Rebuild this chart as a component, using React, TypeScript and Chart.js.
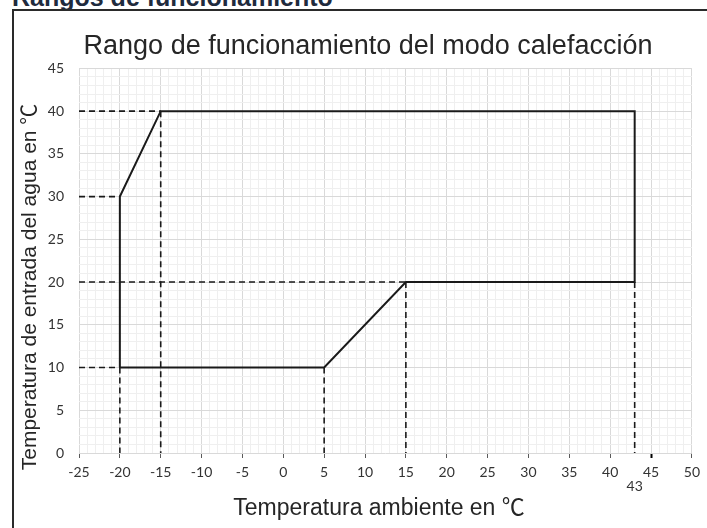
import React, { useEffect, useRef } from "react";
import { Chart, registerables } from "chart.js";

Chart.register(...registerables);

// ---- Data ----
const chartTitle = "Rango de funcionamiento del modo calefacción";
const xAxisTitle = "Temperatura ambiente en ℃";
const yAxisTitle = "Temperatura de entrada del agua en ℃";
const headerText = "Rangos de funcionamiento";

const xMin = -25;
const xMax = 50;
const yMin = 0;
const yMax = 45;
const majorStep = 5;
const extraXTick = 43;

// Operating envelope (polygon)
const boundaryX = [-20, -20, -15, 43, 43, 15, 5, -20];
const boundaryY = [10, 30, 40, 40, 20, 20, 10, 10];

// Horizontal dashed guides: from left axis to envelope
const hGuideY = [40, 30, 20, 10];
const hGuideToX = [-15, -20, 15, -20];

// Vertical dashed guides: from envelope down to x axis
const vGuideX = [-20, -15, 5, 15, 43];
const vGuideFromY = [10, 40, 10, 20, 20];

const FONT = "'Liberation Sans', Arial, 'Noto Sans CJK JP', sans-serif";
const TICK_FONT = "Lato, 'Noto Sans', sans-serif";

export default function App() {
  const ref = useRef<HTMLCanvasElement | null>(null);

  useEffect(() => {
    if (!ref.current) return;
    const black = "#1a1a1a";
    const datasets: any[] = [];

    hGuideY.forEach((y, i) => {
      datasets.push({
        data: [
          { x: xMin, y },
          { x: hGuideToX[i], y },
        ],
        borderColor: black,
        borderWidth: 1.6,
        borderDash: [6, 4],
        showLine: true,
        pointRadius: 0,
        clip: false,
      });
    });
    vGuideX.forEach((x, i) => {
      datasets.push({
        data: [
          { x, y: vGuideFromY[i] },
          { x, y: yMin },
        ],
        borderColor: black,
        borderWidth: 1.6,
        borderDash: [6, 4],
        showLine: true,
        pointRadius: 0,
        clip: false,
      });
    });
    datasets.push({
      data: boundaryX.map((x, i) => ({ x, y: boundaryY[i] })),
      borderColor: black,
      borderWidth: 2,
      showLine: true,
      pointRadius: 0,
      tension: 0,
    });

    const gridColor = (ctx: any) => {
      const v = ctx.tick ? ctx.tick.value : 0;
      return v % majorStep === 0 ? "#d9d9d9" : "#efefef";
    };

    const chart = new Chart(ref.current, {
      type: "scatter",
      data: { datasets },
      options: {
        animation: false,
        responsive: false,
        maintainAspectRatio: false,
        layout: { padding: { left: 14, right: 15, top: 10, bottom: 0 } },
        plugins: {
          legend: { display: false },
          tooltip: { enabled: false },
          title: {
            display: true,
            text: "    " + chartTitle,
            color: "#262626",
            font: { family: FONT, size: 27, weight: "normal", lineHeight: 1.2 },
            padding: { top: 20, bottom: 6 },
          },
        },
        scales: {
          x: {
            type: "linear",
            min: xMin,
            max: xMax,
            afterFit: (s: any) => {
              s.height = 75;
            },
            border: { display: false },
            grid: {
              color: gridColor,
              lineWidth: 1,
              tickLength: 5,
              tickColor: (ctx: any) => {
                const v = ctx.tick ? ctx.tick.value : 0;
                if (v % majorStep !== 0) return "rgba(0,0,0,0)";
                return v === 45 ? "#000" : "#595959";
              },
              tickWidth: (ctx: any) => (ctx.tick && ctx.tick.value === 45 ? 2 : 1),
            },
            ticks: {
              stepSize: 1,
              autoSkip: false,
              maxRotation: 0,
              minRotation: 0,
              maxTicksLimit: 200,
              padding: 7,
              color: "#333333",
              font: { family: TICK_FONT, size: 14, lineHeight: 1.0 },
              callback: (v: any) => {
                const n = Number(v);
                if (n === extraXTick) return ["", String(extraXTick)];
                return n % majorStep === 0 ? String(n) : "";
              },
            },
            title: {
              display: true,
              text: xAxisTitle + "  ",
              color: "#262626",
              font: { family: FONT, size: 23, lineHeight: 1.2 },
              padding: { top: 0, bottom: 6 },
            },
          },
          y: {
            type: "linear",
            min: yMin,
            max: yMax,
            afterFit: (s: any) => {
              s.width = 65;
            },
            border: { display: false },
            grid: {
              color: gridColor,
              lineWidth: 1,
              drawTicks: false,
            },
            ticks: {
              stepSize: 1,
              autoSkip: false,
              maxTicksLimit: 200,
              padding: 15,
              color: "#333333",
              font: { family: TICK_FONT, size: 14 },
              callback: (v: any) => {
                const n = Number(v);
                return n % majorStep === 0 ? String(n) : "";
              },
            },
            title: {
              display: true,
              text: yAxisTitle + "         ",
              color: "#262626",
              font: { family: FONT, size: 21, lineHeight: 1.2 },
              padding: { top: 4, bottom: 0 },
            },
          },
        },
      } as any,
    });
    return () => chart.destroy();
  }, []);

  return (
    <div
      style={{
        position: "fixed",
        left: 0,
        top: 0,
        width: 707,
        height: 528,
        overflow: "hidden",
        background: "#fff",
      }}
    >
      <div
        style={{
          position: "absolute",
          left: 12,
          top: -17,
          fontFamily: FONT,
          fontWeight: "bold",
          fontSize: 25,
          color: "#1f2b3e",
          whiteSpace: "nowrap",
        }}
      >
        {headerText}
      </div>
      <div
        style={{
          position: "absolute",
          left: 12,
          top: 9,
          width: 800,
          height: 600,
          borderLeft: "2px solid #2a2a2a",
          borderTop: "2px solid #2a2a2a",
        }}
      />
      <canvas
        ref={ref}
        width={707}
        height={528}
        style={{ position: "absolute", left: 0, top: 0, width: 707, height: 528 }}
      />
    </div>
  );
}
